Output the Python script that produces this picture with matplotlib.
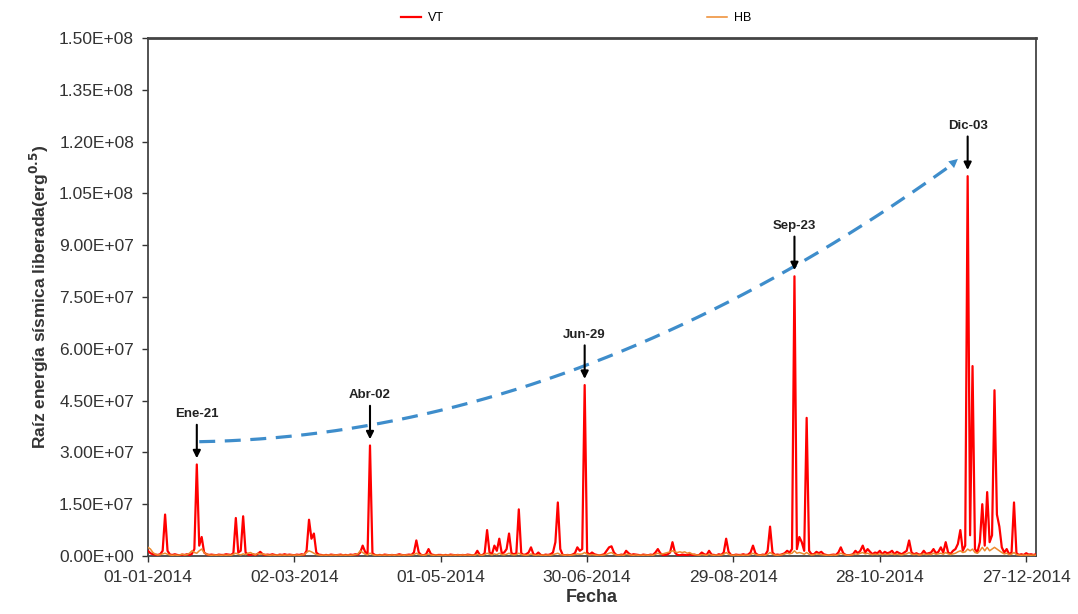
import numpy as np
import pandas as pd
import matplotlib
matplotlib.use('Agg')
import matplotlib.pyplot as plt
import matplotlib.dates as mdates
from matplotlib.ticker import FuncFormatter

plt.rcParams['font.family'] = ['Liberation Sans', 'DejaVu Sans']

# valores diarios (x 1e6), un bloque por mes
vt_ene = [1.5, 0.8, 0.5, 0.4, 0.3, 0.5, 1.5, 12.0, 1.5, 0.4, 0.3, 0.5, 0.3, 0.2, 0.4, 0.3,
          0.5, 0.3, 0.6, 2.0, 26.5, 3.0, 5.5, 1.0, 0.5, 0.3, 0.4, 0.3, 0.2, 0.4, 0.3]
vt_feb = [0.3, 0.5, 0.4, 0.3, 0.8, 11.0, 1.0, 1.5, 11.5, 1.0, 0.4, 0.3, 0.5, 0.3, 0.6, 1.2,
          0.5, 0.3, 0.4, 0.3, 0.5, 0.3, 0.2, 0.4, 0.3, 0.5, 0.3, 0.4]
vt_mar = [0.3, 0.2, 0.4, 0.3, 0.5, 0.3, 1.5, 10.5, 5.0, 6.5, 1.0, 0.4, 0.3, 0.2, 0.3, 0.2,
          0.4, 0.3, 0.2, 0.3, 0.4, 0.2, 0.3, 0.2, 0.4, 0.3, 0.5, 0.4, 1.0, 3.0, 1.2]
vt_abr = [0.5, 32.0, 0.8, 0.3, 0.2, 0.3, 0.2, 0.4, 0.3, 0.2, 0.3, 0.2, 0.3, 0.5, 0.3, 0.2,
          0.3, 0.4, 0.3, 1.0, 4.5, 1.0, 0.3, 0.2, 0.5, 2.0, 0.5, 0.3, 0.2, 0.3]
vt_may = [0.3, 0.2, 0.3, 0.2, 0.4, 0.3, 0.2, 0.3, 0.2, 0.3, 0.2, 0.4, 0.3, 0.2, 0.3, 1.5,
          0.3, 0.2, 0.8, 7.5, 1.0, 0.5, 3.0, 1.5, 5.0, 0.8, 1.0, 2.0, 6.5, 0.8, 0.5]
vt_jun = [0.8, 13.5, 0.8, 0.3, 0.5, 1.0, 2.5, 0.5, 0.3, 1.0, 0.3, 0.2, 0.4, 0.3, 0.5, 1.0,
          4.0, 15.5, 2.0, 0.3, 0.2, 0.3, 0.2, 0.4, 0.8, 2.5, 1.5, 2.0, 49.5, 1.0]
vt_jul = [0.4, 1.0, 0.5, 0.3, 0.2, 0.3, 0.5, 1.5, 2.5, 2.8, 1.0, 0.3, 0.2, 0.4, 0.3, 1.5,
          0.8, 0.3, 0.5, 0.4, 0.3, 0.2, 0.4, 0.3, 0.2, 0.4, 0.3, 1.0, 2.0, 0.8, 0.3]
vt_ago = [0.3, 0.5, 1.0, 4.0, 1.0, 0.3, 0.2, 0.4, 0.3, 0.2, 0.5, 0.3, 0.4, 0.2, 0.3, 1.0,
          0.5, 0.3, 1.5, 0.4, 0.3, 0.2, 0.5, 0.3, 1.0, 5.0, 1.2, 0.3, 0.2, 0.4, 0.3]
vt_sep = [0.3, 0.5, 0.3, 0.4, 1.0, 3.0, 0.8, 0.3, 0.2, 0.4, 0.3, 1.5, 8.5, 1.0, 0.3, 0.4,
          0.3, 0.5, 0.8, 1.5, 1.0, 2.0, 81.0, 2.0, 5.5, 4.0, 1.5, 40.0, 1.5, 0.5]
vt_oct = [0.5, 1.2, 0.8, 1.2, 0.5, 0.3, 0.2, 0.3, 0.4, 0.3, 1.0, 2.5, 0.8, 0.3, 0.2, 0.3,
          0.5, 1.5, 0.8, 1.5, 3.0, 1.0, 2.0, 1.2, 0.5, 1.0, 0.8, 1.5, 0.5, 1.2, 0.8]
vt_nov = [1.0, 1.5, 0.5, 1.2, 0.8, 0.5, 1.0, 1.5, 4.5, 1.0, 0.5, 0.8, 0.4, 0.5, 1.5, 0.6,
          0.8, 1.0, 2.0, 0.8, 1.2, 2.5, 1.0, 4.0, 1.0, 0.6, 1.5, 2.0, 3.5, 7.5]
vt_dic = [1.5, 3.0, 110.0, 6.0, 55.0, 2.0, 1.0, 4.0, 15.0, 3.0, 18.5, 4.0, 6.0, 48.0, 12.0, 8.5,
          2.5, 1.0, 2.0, 0.5, 1.0, 15.5, 0.8, 0.3, 0.5, 0.3, 0.8, 0.4, 0.5, 0.3, 0.5]

hb_ene = [2.5, 2.0, 1.0, 0.5, 0.3, 0.4, 0.6, 0.8, 0.5, 0.3, 0.2, 0.3, 0.2, 0.3, 0.5, 0.3,
          0.4, 0.8, 1.5, 1.0, 0.8, 1.5, 2.0, 1.0, 0.5, 0.3, 0.2, 0.3, 0.2, 0.3, 0.2]
hb_feb = [0.3, 0.2, 0.3, 0.2, 0.5, 0.8, 0.5, 0.3, 0.6, 0.4, 0.8, 1.0, 0.6, 0.3, 0.8, 0.5,
          0.6, 0.4, 0.3, 0.2, 0.3, 0.2, 0.3, 0.2, 0.3, 0.2, 0.3, 0.2]
hb_mar = [0.3, 0.2, 0.3, 0.2, 0.3, 0.4, 1.0, 1.5, 1.2, 0.8, 0.4, 0.3, 0.2, 0.3, 0.2, 0.3,
          0.2, 0.3, 0.2, 0.3, 0.2, 0.3, 0.2, 0.3, 0.2, 0.3, 0.4, 0.6, 1.5, 1.0, 0.5]
hb_abr = [0.3, 0.8, 0.4, 0.2, 0.3, 0.2, 0.3, 0.2, 0.3, 0.2, 0.3, 0.2, 0.3, 0.2, 0.3, 0.2,
          0.3, 0.2, 0.3, 0.4, 0.8, 0.4, 0.3, 0.2, 0.3, 0.6, 0.3, 0.2, 0.3, 0.2]
hb_may = [0.2, 0.3, 0.2, 0.3, 0.2, 0.3, 0.2, 0.3, 0.2, 0.3, 0.2, 0.3, 0.2, 0.3, 0.2, 0.5,
          0.3, 0.2, 0.4, 0.8, 0.5, 0.3, 0.6, 0.4, 0.8, 0.4, 0.3, 0.5, 0.8, 0.4, 0.3]
hb_jun = [0.4, 0.8, 0.4, 0.3, 0.2, 0.3, 0.6, 0.3, 0.2, 0.3, 0.2, 0.3, 0.2, 0.3, 0.2, 0.4,
          0.6, 0.8, 0.4, 0.3, 0.2, 0.3, 0.2, 0.3, 0.4, 0.6, 0.5, 0.6, 1.0, 0.5]
hb_jul = [0.3, 0.4, 0.3, 0.2, 0.3, 0.2, 0.3, 0.5, 0.8, 1.0, 0.5, 0.3, 0.2, 0.3, 0.2, 0.5,
          0.4, 0.3, 0.2, 0.3, 0.2, 0.3, 0.2, 0.3, 0.2, 0.3, 0.2, 0.5, 0.8, 0.5, 0.6]
hb_ago = [0.8, 1.0, 1.2, 1.5, 1.2, 1.0, 1.2, 1.0, 1.2, 0.8, 1.0, 0.6, 0.4, 0.3, 0.2, 0.4,
          0.3, 0.2, 0.5, 0.3, 0.2, 0.3, 0.2, 0.3, 0.5, 1.0, 0.5, 0.3, 0.2, 0.3, 0.2]
hb_sep = [0.3, 0.2, 0.3, 0.2, 0.4, 0.8, 0.4, 0.3, 0.2, 0.3, 0.2, 0.5, 1.0, 0.5, 0.3, 0.2,
          0.3, 0.4, 0.6, 0.8, 0.6, 0.8, 1.5, 0.8, 1.0, 0.8, 0.5, 1.0, 0.5, 0.3]
hb_oct = [0.4, 0.6, 0.5, 0.4, 0.3, 0.2, 0.3, 0.2, 0.3, 0.2, 0.4, 0.8, 0.5, 0.3, 0.2, 0.3,
          0.4, 0.6, 0.5, 0.8, 1.0, 0.6, 0.8, 0.5, 0.4, 0.5, 0.4, 0.6, 0.4, 0.5, 0.4]
hb_nov = [0.5, 0.6, 0.4, 0.5, 0.4, 0.3, 0.5, 0.6, 1.0, 0.5, 0.4, 0.5, 0.3, 0.4, 0.6, 0.4,
          0.5, 0.4, 0.8, 0.5, 0.6, 0.8, 0.5, 1.0, 0.6, 0.4, 0.6, 0.8, 1.2, 1.5]
hb_dic = [1.0, 1.2, 2.0, 1.5, 2.0, 1.0, 0.8, 1.5, 2.5, 1.5, 2.5, 1.5, 2.0, 2.5, 2.0, 1.5,
          1.0, 0.6, 0.8, 0.4, 0.5, 1.0, 0.4, 0.3, 0.2, 0.3, 0.2, 0.3, 0.2, 0.3, 0.2]

vt = np.array(vt_ene + vt_feb + vt_mar + vt_abr + vt_may + vt_jun +
              vt_jul + vt_ago + vt_sep + vt_oct + vt_nov + vt_dic) * 1e6
hb = np.array(hb_ene + hb_feb + hb_mar + hb_abr + hb_may + hb_jun +
              hb_jul + hb_ago + hb_sep + hb_oct + hb_nov + hb_dic) * 1e6
fechas = pd.date_range('2014-01-01', '2014-12-31', freq='D')

# eventos marcados
ev_fechas = ['2014-01-21', '2014-04-02', '2014-06-29', '2014-09-23', '2014-12-03']
ev_labels = ['Ene-21', 'Abr-02', 'Jun-29', 'Sep-23', 'Dic-03']

# tendencia (linea azul discontinua)
tend_fechas = ['2014-01-22', '2014-04-03', '2014-06-30', '2014-09-23', '2014-11-29']
tend_vals = [3.3e7, 3.8e7, 5.6e7, 8.3e7, 1.15e8]

fig = plt.figure(figsize=(10.78, 6.14), dpi=100)
ax = fig.add_axes([0.1373, 0.0945, 0.8237, 0.8435])

ax.plot(fechas, vt, color='#FF0000', lw=1.6, label='VT', zorder=3)
ax.plot(fechas, hb, color='#ED8A2E', lw=1.1, label='HB', zorder=4)

# curva de tendencia
td = mdates.date2num(pd.to_datetime(tend_fechas))
coef = np.polyfit(td, tend_vals, 2)
xs = np.linspace(td[0], td[-1] - 3, 200)
ax.plot(xs, np.polyval(coef, xs), color='#3E8DCB', lw=2.3, ls=(0, (5, 3)), zorder=5)
ax.annotate('', xy=(td[-1], tend_vals[-1]), xytext=(td[-1] - 4, np.polyval(coef, td[-1] - 4)),
            arrowprops=dict(arrowstyle='-|>', color='#3E8DCB', lw=0, mutation_scale=16,
                            shrinkA=0, shrinkB=0), zorder=5)

for f, lab in zip(ev_fechas, ev_labels):
    d = pd.Timestamp(f)
    pk = vt[(d - fechas[0]).days]
    ax.annotate('', xy=(d, pk + 1.8e6), xytext=(d, pk + 11.5e6),
                arrowprops=dict(arrowstyle='-|>', color='black', lw=1.5,
                                mutation_scale=11, shrinkA=0, shrinkB=0), zorder=6)
    ax.text(d, pk + 12.8e6, lab, ha='center', va='bottom', fontsize=9.5,
            fontweight='bold', color='#222222', zorder=6)

ax.set_xlim(pd.Timestamp('2014-01-01'), pd.Timestamp('2014-12-31'))
ax.set_ylim(0, 1.5e8)
ax.set_yticks(np.arange(0, 1.5e8 + 1, 1.5e7))
ax.yaxis.set_major_formatter(FuncFormatter(lambda v, p: '%.2E' % v))
ax.set_xticks(pd.date_range('2014-01-01', periods=7, freq='60D'))
ax.xaxis.set_major_formatter(mdates.DateFormatter('%d-%m-%Y'))
ax.tick_params(axis='both', labelsize=12.5, colors='#333333', length=4, width=1)
ax.tick_params(axis='x', pad=6)
ax.tick_params(axis='y', pad=6)

for s in ax.spines.values():
    s.set_color('#444444')
    s.set_linewidth(1.3)
ax.spines['top'].set_linewidth(2)

ax.set_xlabel('Fecha', fontsize=13, fontweight='bold', color='#333333', labelpad=3)
ax.set_ylabel('Raíz energía sísmica liberada(erg$^{\\mathbf{0.5}}$)', fontsize=12.5,
              fontweight='bold', color='#333333', labelpad=6)

ax.legend(loc='lower center', bbox_to_anchor=(0.482, 1.005), ncol=2, frameon=False,
          fontsize=9, handlelength=1.6, columnspacing=21, handletextpad=0.6)

fig.savefig('out.png', dpi=100)
